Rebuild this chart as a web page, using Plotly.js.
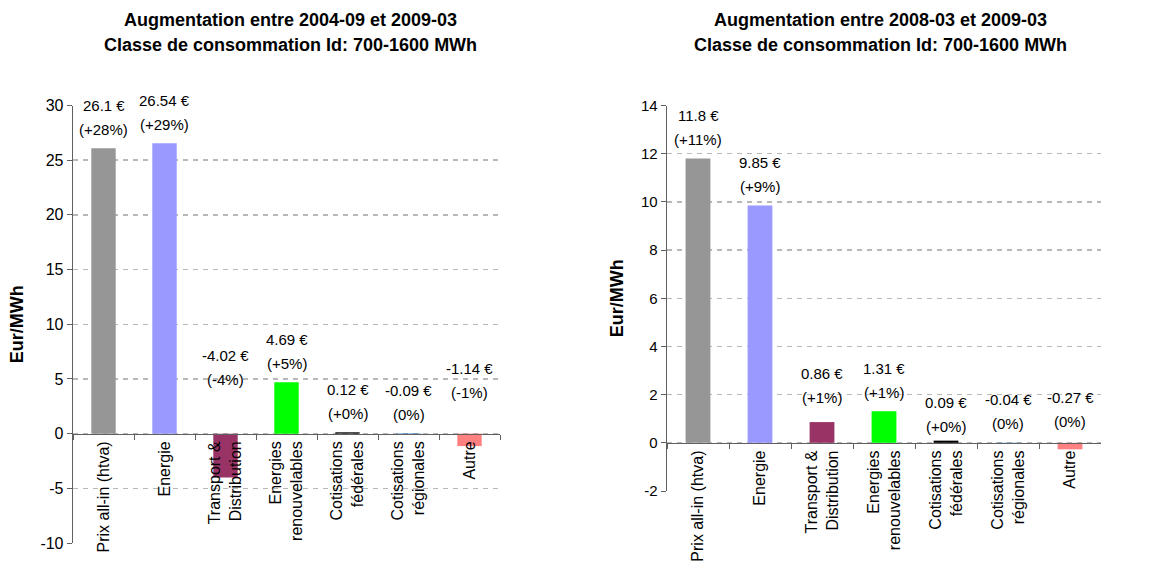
<!DOCTYPE html>
<html>
<head>
<meta charset="utf-8">
<script src="https://cdn.plot.ly/plotly-3.0.1.min.js"></script>
<style>html,body{margin:0;padding:0;background:#fff}#chart{width:1157px;height:565px}</style>
</head>
<body>
<div id="chart"></div>
<script>
// ---- data ----
const categories = ['Prix all-in (htva)', 'Energie', 'Transport &<br>Distribution', 'Energies<br>renouvelables', 'Cotisations<br>fédérales', 'Cotisations<br>régionales', 'Autre'];
const barColors = ['#969696', '#9999FF', '#993366', '#00FF00', '#000000', '#0066CC', '#FF8080'];

const leftTitleLines = ['Augmentation entre 2004-09 et 2009-03', 'Classe de consommation Id: 700-1600 MWh'];
const leftValues = [26.1, 26.54, -4.02, 4.69, 0.12, -0.09, -1.14];
const leftValueText = ['26.1 €', '26.54 €', '-4.02 €', '4.69 €', '0.12 €', '-0.09 €', '-1.14 €'];
const leftPctText = ['(+28%)', '(+29%)', '(-4%)', '(+5%)', '(+0%)', '(0%)', '(-1%)'];
const leftTicks = [-10, -5, 0, 5, 10, 15, 20, 25, 30];

const rightTitleLines = ['Augmentation entre 2008-03 et 2009-03', 'Classe de consommation Id: 700-1600 MWh'];
const rightValues = [11.8, 9.85, 0.86, 1.31, 0.09, -0.04, -0.27];
const rightValueText = ['11.8 €', '9.85 €', '0.86 €', '1.31 €', '0.09 €', '-0.04 €', '-0.27 €'];
const rightPctText = ['(+11%)', '(+9%)', '(+1%)', '(+1%)', '(+0%)', '(0%)', '(0%)'];
const rightTicks = [-2, 0, 2, 4, 6, 8, 10, 12, 14];

const yTitle = 'Eur/MWh';

// ---- layout helpers (positions / styles) ----
const W = 1157, H = 565;
const leftLabelLift = [0, 0, 35, 0, 0, 0, 22];
const rightLabelLift = [0, 0, 6, 0, -5, 0, 2];
const FONT = 'Liberation Sans, Arial, sans-serif';

const panels = [
  {xd: [73 / W, 500 / W], yd: [1 - 543 / H, 1 - 105.5 / H], range: [-10, 30], ticks: leftTicks,
   values: leftValues, vText: leftValueText, pText: leftPctText, lift: leftLabelLift, title: leftTitleLines, tickSize: 16, titleX: 290},
  {xd: [667 / W, 1101 / W], yd: [1 - 491 / H, 1 - 105.5 / H], range: [-2, 14], ticks: rightTicks,
   values: rightValues, vText: rightValueText, pText: rightPctText, lift: rightLabelLift, title: rightTitleLines, tickSize: 15, titleX: 880}
];

const data = [];
const layout = {
  width: W, height: H,
  margin: {l: 0, r: 0, t: 0, b: 0},
  paper_bgcolor: '#ffffff', plot_bgcolor: '#ffffff',
  font: {family: FONT, color: '#000000', size: 15},
  showlegend: false,
  bargap: 0.6,
  annotations: []
};

panels.forEach((p, i) => {
  const n = i === 0 ? '' : '2';
  const xa = 'x' + n, ya = 'y' + n;
  data.push({
    type: 'bar', x: categories, y: p.values, xaxis: xa, yaxis: ya,
    marker: {color: barColors, line: {width: 0}},
    hoverinfo: 'x+y'
  });
  const zeroPos = p.yd[0] + (0 - p.range[0]) / (p.range[1] - p.range[0]) * (p.yd[1] - p.yd[0]);
  layout['xaxis' + n] = {
    domain: p.xd, type: 'category', anchor: 'free', position: zeroPos,
    showline: true, linecolor: '#606060', linewidth: 1.3,
    ticks: 'outside', tickson: 'boundaries', ticklen: 5, tickcolor: '#606060',
    tickangle: -90, tickfont: {size: 16, family: FONT, color: '#000'},
    showgrid: false, zeroline: false, fixedrange: true
  };
  layout['yaxis' + n] = {
    domain: p.yd, anchor: xa, range: p.range,
    tickvals: p.ticks, ticktext: p.ticks.map(String),
    showline: true, linecolor: '#606060', linewidth: 1.3,
    ticks: 'outside', ticklen: 5, tickcolor: '#606060',
    tickfont: {size: p.tickSize, family: FONT, color: '#000'},
    showgrid: true, gridcolor: '#b8b8b8', griddash: '5px,5px', gridwidth: 1.4,
    zeroline: false, fixedrange: true,
    title: {text: yTitle, font: {size: 18, family: FONT, color: '#000', weight: 'bold'}, standoff: 12}
  };
  // chart title (two lines)
  p.title.forEach((line, j) => {
    layout.annotations.push({
      xref: 'paper', yref: 'paper', x: p.titleX / W, y: 1 - (20 + 25 * j) / H,
      xanchor: 'center', yanchor: 'middle', showarrow: false,
      text: '<b>' + line + '</b>', font: {size: 18, family: FONT, color: '#000'}
    });
  });
  // data labels
  p.values.forEach((v, k) => {
    const base = Math.max(v, 0);
    layout.annotations.push({
      xref: xa, yref: ya, x: categories[k], y: base, showarrow: false,
      xanchor: 'center', yanchor: 'middle', yshift: 19 + p.lift[k],
      text: p.pText[k], font: {size: 15, family: FONT, color: '#000'}
    });
    layout.annotations.push({
      xref: xa, yref: ya, x: categories[k], y: base, showarrow: false,
      xanchor: 'center', yanchor: 'middle', yshift: 43 + p.lift[k],
      text: p.vText[k], font: {size: 15, family: FONT, color: '#000'}
    });
  });
});

Plotly.newPlot('chart', data, layout, {displayModeBar: false, staticPlot: true});
</script>
</body>
</html>
